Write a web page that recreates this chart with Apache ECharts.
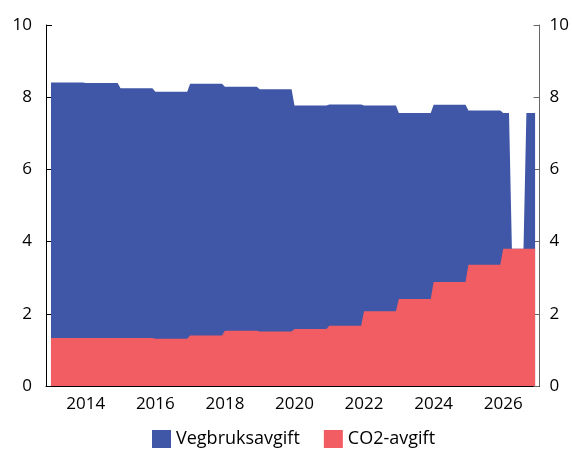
<!DOCTYPE html>
<html>
<head>
<meta charset="utf-8">
<script src="https://cdn.jsdelivr.net/npm/echarts@6/dist/echarts.min.js"></script>
<style>
  html, body { margin: 0; padding: 0; background: #fff; }
  #avgiftChart { width: 572px; height: 453px; }
</style>
</head>
<body>
<div id="avgiftChart"></div>
<script>
// årlige satser, lest av figuren (samme verdi alle måneder i året)
const years = [2013, 2014, 2015, 2016, 2017, 2018, 2019, 2020, 2021, 2022, 2023, 2024, 2025, 2026];
const co2Avgift = [1.33, 1.33, 1.33, 1.31, 1.40, 1.53, 1.51, 1.58, 1.67, 2.07, 2.41, 2.88, 3.36, 3.80];
const vegbruksavgift = [7.08, 7.06, 6.92, 6.84, 6.97, 6.76, 6.71, 6.19, 6.13, 5.70, 5.15, 4.91, 4.27, 3.76];
// måneder uten vegbruksavgift
const vegbruksGap = ["2026-04", "2026-05", "2026-06", "2026-07", "2026-08"];
const xLabels = [2014, 2016, 2018, 2020, 2022, 2024, 2026];

const fontFamily = "'Open Sans', 'Noto Sans', sans-serif";
const blue = "#4057A7";
const red = "#F25D63";

// månedlige punkter (x i desimalår); vegbruksavgift legges oppå CO2-avgiften
const co2Data = [];
const sumData = [];
years.forEach((y, i) => {
  for (let m = 0; m < 12; m++) {
    const x = y + m / 12;
    const key = y + "-" + String(m + 1).padStart(2, "0");
    const veg = vegbruksGap.includes(key) ? 0 : vegbruksavgift[i];
    co2Data.push([x, co2Avgift[i]]);
    sumData.push([x, co2Avgift[i] + veg]);
  }
});

const chart = echarts.init(document.getElementById("avgiftChart"));

const yAxisBase = {
  type: "value",
  min: 0,
  max: 10,
  interval: 2,
  axisLine: { show: true, lineStyle: { color: "#000", width: 1 } },
  axisTick: { show: true, inside: true, length: 6, lineStyle: { color: "#000" } },
  splitLine: { show: false },
};

chart.setOption({
  animation: false,
  textStyle: { fontFamily: fontFamily },
  grid: { left: 46, right: 30, top: 25, bottom: 67 },
  legend: {
    data: ["Vegbruksavgift", "CO2-avgift"],
    bottom: 0,
    left: 147,
    icon: "rect",
    itemWidth: 19,
    itemHeight: 18,
    itemGap: 24,
    textStyle: { fontSize: 18, color: "#000", fontFamily: fontFamily },
  },
  xAxis: {
    type: "value",
    min: 2012.857,
    max: 2027.045,
    axisLine: { show: true, onZero: false, lineStyle: { color: "#000" } },
    axisTick: { show: false },
    splitLine: { show: false },
    axisLabel: {
      customValues: xLabels,
      fontSize: 17,
      color: "#000",
      margin: 10,
      formatter: (v) => String(v),
    },
  },
  yAxis: [
    Object.assign({}, yAxisBase, {
      position: "left",
      axisLabel: { fontSize: 17, color: "#000", margin: 14 },
    }),
    Object.assign({}, yAxisBase, {
      position: "right",
      axisLine: { show: true, lineStyle: { color: "#666", width: 1 } },
      axisTick: { show: true, inside: true, length: 6, lineStyle: { color: "#666" } },
      axisLabel: { fontSize: 17, color: "#000", margin: 10 },
    }),
  ],
  series: [
    {
      name: "Vegbruksavgift",
      type: "line",
      data: sumData,
      symbol: "none",
      lineStyle: { width: 0 },
      itemStyle: { color: blue },
      areaStyle: { color: blue, opacity: 1 },
      z: 2,
    },
    {
      name: "CO2-avgift",
      type: "line",
      data: co2Data,
      symbol: "none",
      lineStyle: { width: 0 },
      itemStyle: { color: red },
      areaStyle: { color: red, opacity: 1 },
      z: 3,
    },
  ],
});

window.onresize = function () {
  chart.resize();
};
</script>
</body>
</html>
